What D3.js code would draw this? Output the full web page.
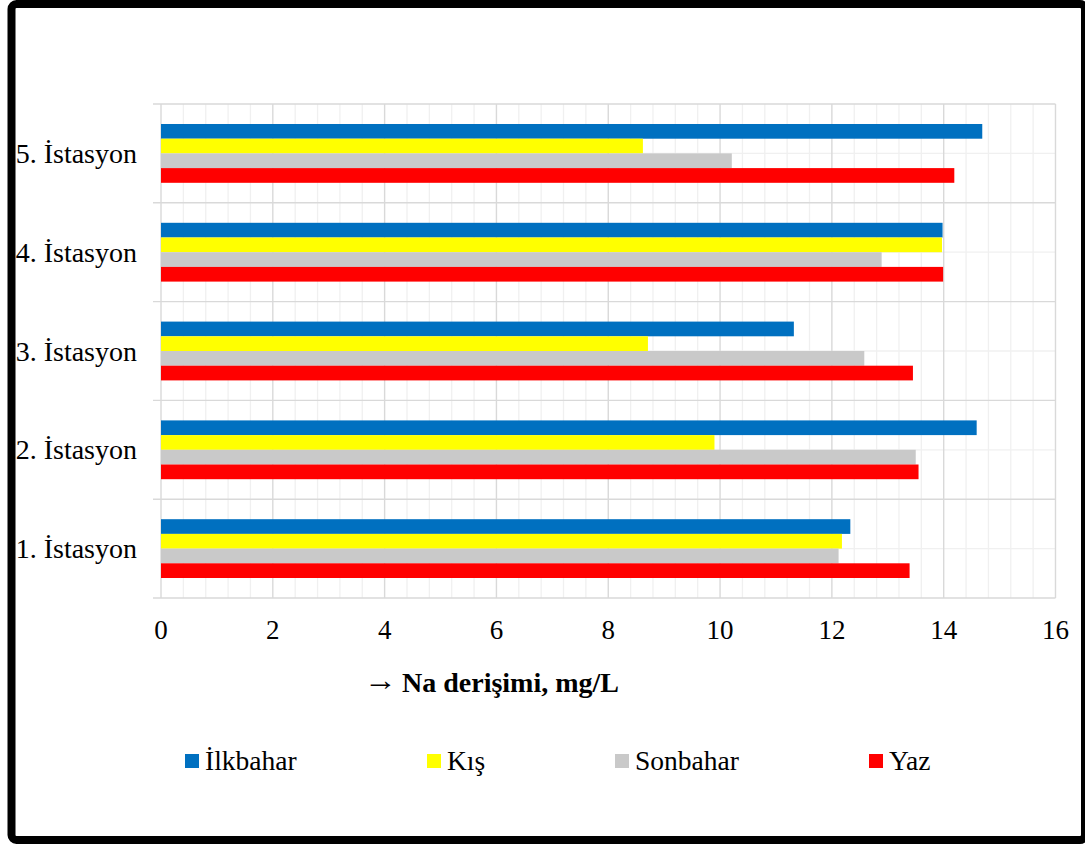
<!DOCTYPE html>
<html>
<head>
<meta charset="utf-8">
<script src="https://cdn.jsdelivr.net/npm/d3@7"></script>
<style>
    html, body { margin: 0; padding: 0; background: #fff; }
    svg { display: block; }
</style>
</head>
<body>
<div id="vis-bar"></div>
<script>
// Stations (bottom to top in the chart)
const stations = ["1. İstasyon", "2. İstasyon", "3. İstasyon", "4. İstasyon", "5. İstasyon"];
const seasons = ["İlkbahar", "Kış", "Sonbahar", "Yaz"];

// Na concentration, mg/L, one value per station
const ilkbahar = [12.33, 14.59, 11.32, 13.98, 14.69];
const kis = [12.18, 9.90, 8.71, 13.97, 8.62];
const sonbahar = [12.12, 13.50, 12.58, 12.89, 10.21];
const yaz = [13.39, 13.55, 13.45, 13.99, 14.19];

const xTicks = [0, 2, 4, 6, 8, 10, 12, 14, 16];
const axisTitle = "Na derişimi, mg/L";

(function() {
    const seriesValues = [ilkbahar, kis, sonbahar, yaz];
    const colors = ["#0070C0", "#FFFF00", "#C9C9C9", "#FF0000"];
    const font = "'Liberation Serif', 'Times New Roman', serif";

    const W = 1085, H = 845;
    const plot = {left: 161, right: 1055.5, top: 104, bottom: 598};

    const svg = d3.select("#vis-bar").append("svg")
        .attr("width", W)
        .attr("height", H)
        .attr("font-family", font);

    svg.append("rect")
        .attr("width", W)
        .attr("height", H)
        .attr("fill", "#fff");

    // scales
    const x = d3.scaleLinear()
        .domain([0, 16])
        .range([plot.left, plot.right]);

    const y = d3.scaleBand()
        .domain(stations.slice().reverse())
        .range([plot.top, plot.bottom])
        .paddingInner(0)
        .paddingOuter(0);

    // bars inside one station band, blue on top
    const gap = 2.72;
    const barH = y.bandwidth() / (seasons.length + gap);
    const groupOffset = (y.bandwidth() - barH * seasons.length) / 2;
    const ySub = d3.scaleBand()
        .domain(seasons)
        .range([groupOffset, groupOffset + barH * seasons.length]);

    const grid = svg.append("g");

    // minor vertical gridlines every 0.4
    const minorX = d3.range(0, 16.001, 0.4).filter(v => Math.abs(v / 2 - Math.round(v / 2)) > 0.01);
    grid.selectAll(".minor-x")
        .data(minorX)
        .enter().append("line")
        .attr("x1", d => x(d)).attr("x2", d => x(d))
        .attr("y1", plot.top).attr("y2", plot.bottom)
        .attr("stroke", "#f0f0f0")
        .attr("stroke-width", 1.3);

    // minor horizontal gridlines at band centres
    grid.selectAll(".minor-y")
        .data(stations)
        .enter().append("line")
        .attr("x1", plot.left).attr("x2", plot.right)
        .attr("y1", d => y(d) + y.bandwidth() / 2)
        .attr("y2", d => y(d) + y.bandwidth() / 2)
        .attr("stroke", "#f0f0f0")
        .attr("stroke-width", 1.3);

    // major vertical gridlines
    grid.selectAll(".major-x")
        .data(xTicks)
        .enter().append("line")
        .attr("x1", d => x(d)).attr("x2", d => x(d))
        .attr("y1", plot.top).attr("y2", plot.bottom)
        .attr("stroke", "#d9d9d9")
        .attr("stroke-width", 1.4);

    // major horizontal lines at band edges, with small ticks to the left
    const bandEdges = stations.map(s => y(s)).concat([plot.bottom]);
    grid.selectAll(".major-y")
        .data(bandEdges)
        .enter().append("line")
        .attr("x1", plot.left - 8).attr("x2", plot.right)
        .attr("y1", d => d).attr("y2", d => d)
        .attr("stroke", "#d9d9d9")
        .attr("stroke-width", 1.4);

    // bars
    const rows = [];
    stations.forEach((s, i) => {
        seasons.forEach((season, j) => {
            rows.push({station: s, season: season, value: seriesValues[j][i], color: colors[j]});
        });
    });

    svg.append("g").selectAll("rect")
        .data(rows)
        .enter().append("rect")
        .attr("x", x(0))
        .attr("y", d => y(d.station) + ySub(d.season))
        .attr("width", d => x(d.value) - x(0))
        .attr("height", ySub.bandwidth())
        .attr("fill", d => d.color);

    // category labels
    svg.append("g").selectAll("text")
        .data(stations)
        .enter().append("text")
        .attr("x", 137)
        .attr("y", d => y(d) + y.bandwidth() / 2 + 9.5)
        .attr("text-anchor", "end")
        .attr("font-size", "28px")
        .attr("fill", "#000")
        .text(d => d);

    // x tick labels
    svg.append("g").selectAll("text")
        .data(xTicks)
        .enter().append("text")
        .attr("x", d => x(d))
        .attr("y", 639)
        .attr("text-anchor", "middle")
        .attr("font-size", "27px")
        .attr("fill", "#000")
        .text(d => d);

    // axis title, the arrow is drawn a bit wider like in the original
    svg.append("text")
        .attr("x", 364)
        .attr("y", 690)
        .attr("font-size", "30px")
        .attr("textLength", 33)
        .attr("lengthAdjust", "spacingAndGlyphs")
        .attr("fill", "#000")
        .text("→");

    svg.append("text")
        .attr("x", 402)
        .attr("y", 692)
        .attr("font-size", "28px")
        .attr("font-weight", "bold")
        .attr("fill", "#000")
        .text(axisTitle);

    // legend
    const legendX = [185, 427, 615, 869];
    const legend = svg.append("g").selectAll("g")
        .data(seasons)
        .enter().append("g")
        .attr("transform", (d, i) => "translate(" + legendX[i] + ",754)");

    legend.append("rect")
        .attr("width", 14)
        .attr("height", 14)
        .attr("fill", (d, i) => colors[i]);

    legend.append("text")
        .attr("x", 20)
        .attr("y", 16)
        .attr("font-size", "27.5px")
        .attr("fill", "#000")
        .text(d => d);

    // thick black frame
    svg.append("rect")
        .attr("x", 11.5)
        .attr("y", 4)
        .attr("width", 1073.5)
        .attr("height", 836)
        .attr("rx", 5)
        .attr("fill", "none")
        .attr("stroke", "#000")
        .attr("stroke-width", 8);
})();
</script>
</body>
</html>
